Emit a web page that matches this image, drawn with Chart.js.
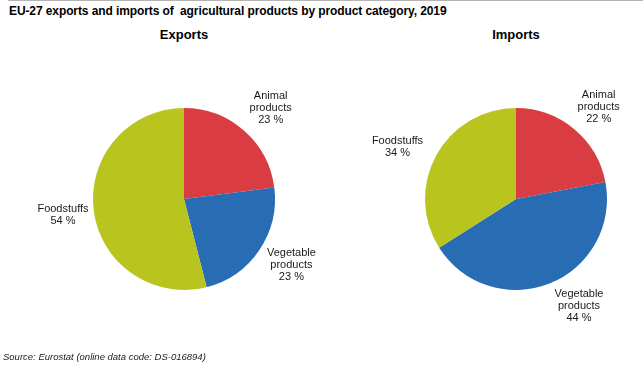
<!DOCTYPE html>
<html>
<head>
<meta charset="utf-8">
<script src="https://cdn.jsdelivr.net/npm/chart.js@4"></script>
<style>
  body { margin: 0; background: #fff; font-family: "Liberation Sans", Arial, sans-serif; }
  #wrap { position: relative; width: 643px; height: 368px; overflow: hidden; }
  #topline { position: absolute; left: 8px; right: 0; top: 0; height: 1px; background: #b4b4b4; }
  .txt { position: absolute; white-space: nowrap; color: #000; }
  #title { left: 9px; top: 4px; font-size: 12px; font-weight: bold; letter-spacing: -0.1px; }
  .sub { top: 27px; font-size: 13px; font-weight: bold; transform: translateX(-50%); }
  #source { left: 3px; top: 351px; font-size: 9.5px; font-style: italic; color: #222; }
  canvas { position: absolute; top: 0; }
</style>
</head>
<body>
<div id="wrap">
  <div id="topline"></div>
  <div id="title" class="txt">EU-27 exports and imports of&nbsp; agricultural products by product category, 2019</div>
  <div class="txt sub" style="left:184px">Exports</div>
  <div class="txt sub" style="left:516px">Imports</div>
  <canvas id="exportsChart" width="330" height="368" style="left:0"></canvas>
  <canvas id="importsChart" width="313" height="368" style="left:330px"></canvas>
  <div id="source" class="txt">Source: Eurostat (online data code: DS-016894)</div>
</div>
<script>
const categories = ['Animal products', 'Vegetable products', 'Foodstuffs'];
const exportsShare = [23, 23, 54];
const importsShare = [22, 44, 34];
const colors = ['#d93c41', '#286db4', '#bac41f'];

// small hand tweaks of label placement, in px (dx, dy) per slice
const exportsNudge = [[4, 3], [4, -4], [3, 0]];
const importsNudge = [[3, 4], [17, -9], [-9, 8]];

// labels outside each slice: category on two lines plus the share
const outsideLabels = {
    id: 'outsideLabels',
    afterDatasetsDraw(chart, args, opts) {
        const ctx = chart.ctx;
        const values = chart.data.datasets[0].data;
        const nudge = opts.nudge || [];
        ctx.save();
        ctx.font = '11px "Liberation Sans", Arial, sans-serif';
        ctx.fillStyle = '#1a1a1a';
        ctx.textAlign = 'center';
        ctx.textBaseline = 'middle';
        chart.getDatasetMeta(0).data.forEach((arc, i) => {
            const p = arc.getProps(['x', 'y', 'startAngle', 'endAngle', 'outerRadius'], true);
            const mid = (p.startAngle + p.endAngle) / 2;
            const r = p.outerRadius + 34;
            const n = nudge[i] || [0, 0];
            const lx = p.x + Math.cos(mid) * r + n[0];
            const ly = p.y + Math.sin(mid) * r + n[1];
            const lines = categories[i].split(' ').concat([values[i] + ' %']);
            const top = ly - (lines.length - 1) * 12 / 2;
            lines.forEach((line, j) => ctx.fillText(line, lx, top + j * 12));
        });
        ctx.restore();
    }
};

function makePie(id, values, padding, nudge) {
    const ctx = document.getElementById(id).getContext('2d');
    return new Chart(ctx, {
        type: 'pie',
        data: {
            labels: categories,
            datasets: [{
                data: values,
                backgroundColor: colors,
                borderWidth: 0
            }]
        },
        options: {
            responsive: false,
            animation: false,
            layout: { padding: padding },
            plugins: {
                legend: { display: false },
                tooltip: { enabled: false },
                outsideLabels: { nudge: nudge }
            }
        },
        plugins: [outsideLabels]
    });
}

makePie('exportsChart', exportsShare, { left: 93, right: 55, top: 108, bottom: 78 }, exportsNudge);
makePie('importsChart', importsShare, { left: 95, right: 36, top: 108, bottom: 78 }, importsNudge);
</script>
</body>
</html>
